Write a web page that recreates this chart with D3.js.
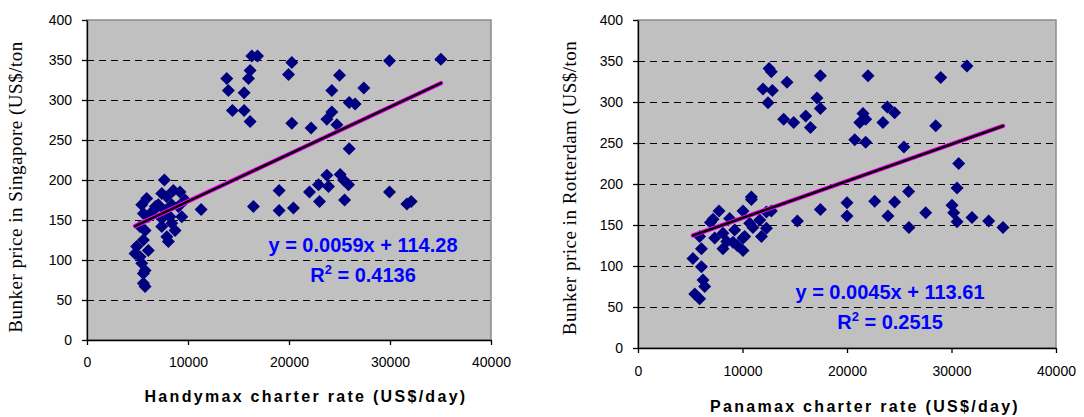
<!DOCTYPE html>
<html lang="en">
<head>
<meta charset="UTF-8">
<title>Bunker price vs charter rate</title>
<style>
  body { margin: 0; background: #fff; }
  svg { display: block; }
  .tick text { font-family: Arial, "Liberation Sans", sans-serif; font-size: 14px; fill: #000; }
</style>
</head>
<body>
<svg id="chart" width="1084" height="417"></svg>
<script src="https://cdnjs.cloudflare.com/ajax/libs/d3/7.8.5/d3.min.js"></script>
<script>
// Handymax charter rate (US$/day) vs Singapore bunker price (US$/ton)
let handyRate = [16320,16880,20280,19950,29950,35040,13840,14000,16150,15990,15560,14400,15560,16150,
  25000,24240,27410,25960,26550,20280,22190,24240,23750,24740,25960,
  23750,25070,22920,23910,25890,25400,19020,22030,29950,16480,19020,20440,23020,25500,31670,32100,
  7660,9210,7400,5910,9710,5420,11300,8390,7060,9050,7730,6070,6570,5580,8390,7400,8720,5750,
  7900,8060,5580,4920,4760,5250,5420,5750,5580,5750,8550,7900,9380,8220,5250,6070,5580,7400,6770];
let singPrice = [355,355,347,332,349,351,327,312,337,327,309,287,287,273,
  331,312,315,297,295,271,265,285,276,269,239,
  206,207,194,192,194,200,187,185,185,167,162,165,173,175,170,173,
  200,185,183,177,175,169,163,169,169,167,162,154,162,158,146,142,137,137,
  129,123,125,117,108,104,96,87,71,67,187,179,154,154,142,112,83,152,167];

// Panamax charter rate (US$/day) vs Rotterdam bunker price (US$/ton)
let panaRate = [12540,12760,11960,12860,12440,14260,13940,14900,16050,16500,17450,22010,28970,31480,
  17130,17450,21530,21220,21790,23860,24560,23440,28490,20740,21790,25450,30690,
  30530,25900,22650,24560,20000,20000,17450,15250,23920,25930,27530,30050,30210,30530,31960,33560,34930,
  10850,7750,10050,12760,6930,8770,11650,12290,11810,8130,9250,7340,8130,10050,10050,9090,
  5900,6070,5260,6070,6220,6380,5430,5900,7180,10690,10850,12290,10210,8500,9500,11000];
let rottPrice = [341,337,316,314,299,324,279,275,283,269,332,332,330,344,
  305,292,286,275,279,294,287,275,271,254,251,245,225,
  195,191,179,178,177,161,169,155,161,147,165,174,165,154,159,155,147,
  181,167,167,167,153,158,156,146,136,140,144,134,121,119,134,129,
  136,121,109,99,83,75,66,60,157,152,184,166,136,130,125,147];

let yTicks = [0,50,100,150,200,250,300,350,400];
let xTicks = [0,10000,20000,30000,40000];

let fits = [
  { slope: 0.0059, intercept: 114.28, eq: "y = 0.0059x + 114.28", r2: "0.4136" },
  { slope: 0.0045, intercept: 113.61, eq: "y = 0.0045x + 113.61", r2: "0.2515" }
];

let svg = d3.select("#chart");

function scatter(cfg) {
  let g = svg.append("g");
  let x = d3.scaleLinear().domain([0, 40000]).range([cfg.left, cfg.right]);
  let y = d3.scaleLinear().domain([0, 400]).range([cfg.bottom, cfg.top]);
  let data = cfg.xs.map((v, i) => ({ x: v, y: cfg.ys[i] }));

  // plot area
  g.append("rect")
    .attr("x", cfg.left).attr("y", cfg.top)
    .attr("width", cfg.right - cfg.left).attr("height", cfg.bottom - cfg.top)
    .attr("fill", "#c0c0c0")
    .attr("stroke", "#8c8c8c")
    .attr("stroke-width", 1.5);

  // dashed gridlines
  g.selectAll(".grid")
    .data(yTicks.filter(v => v > 0 && v < 400))
    .enter().append("line")
    .attr("x1", cfg.left).attr("x2", cfg.right)
    .attr("y1", d => Math.round(y(d)) + 0.5).attr("y2", d => Math.round(y(d)) + 0.5)
    .attr("stroke", "#000")
    .attr("stroke-dasharray", "7,5");

  // axes
  g.append("g")
    .attr("transform", "translate(" + cfg.left + ",0)")
    .call(d3.axisLeft(y).tickValues(yTicks).tickSize(5).tickSizeOuter(0).tickPadding(10))
    .call(a => a.selectAll("path,line").attr("stroke", "#000").attr("stroke-width", 1.3));

  g.append("g")
    .attr("transform", "translate(0," + cfg.bottom + ")")
    .call(d3.axisBottom(x).tickValues(xTicks).tickFormat(d3.format("d")).tickSize(5).tickSizeOuter(0).tickPadding(cfg.xpad))
    .call(a => a.selectAll("path,line").attr("stroke", "#000").attr("stroke-width", 1.3));

  // points
  let r = 6.5;
  g.selectAll(".pt")
    .data(data)
    .enter().append("path")
    .attr("d", "M0," + (-r) + "L" + r + ",0L0," + r + "L" + (-r) + ",0Z")
    .attr("transform", d => "translate(" + x(d.x) + "," + y(d.y) + ")")
    .attr("fill", "#000080");

  // trend line
  let ext = d3.extent(cfg.xs);
  let tl = ext.map(v => ({ x: v, y: cfg.fit.slope * v + cfg.fit.intercept }));
  let line = d3.line().x(d => x(d.x)).y(d => y(d.y));
  g.append("path").attr("d", line(tl))
    .attr("stroke", "#ff00ff").attr("stroke-width", 4.5).attr("stroke-linecap", "round").attr("fill", "none");
  g.append("path").attr("d", line(tl))
    .attr("stroke", "#000").attr("stroke-width", 2.6).attr("stroke-linecap", "round").attr("fill", "none");

  // equation
  let eqStyle = t => t.attr("font-family", "Arial, 'Liberation Sans', sans-serif")
    .attr("font-weight", "bold").attr("font-size", 20).attr("fill", "#0000ff")
    .attr("text-anchor", "middle");
  g.append("text").attr("x", cfg.eqX).attr("y", cfg.eqY).call(eqStyle).text(cfg.fit.eq);
  let r2 = g.append("text").attr("x", cfg.eqX).attr("y", cfg.eqY + 30).call(eqStyle);
  r2.append("tspan").text("R");
  r2.append("tspan").attr("font-size", 13).attr("dy", -8).text("2");
  r2.append("tspan").attr("dy", 8).text(" = " + cfg.fit.r2);

  // axis titles
  g.append("text")
    .attr("transform", "translate(" + cfg.ytX + "," + cfg.ytY + ") rotate(-90)")
    .attr("text-anchor", "middle")
    .attr("dominant-baseline", "middle")
    .attr("font-family", "'Times New Roman', 'Liberation Serif', serif")
    .attr("font-size", 19)
    .attr("letter-spacing", 0.5)
    .text(cfg.ytitle);

  g.append("text")
    .attr("x", cfg.xtX).attr("y", cfg.xtY)
    .attr("text-anchor", "middle")
    .attr("font-family", "Arial, 'Liberation Sans', sans-serif")
    .attr("font-weight", "bold")
    .attr("font-size", 16)
    .attr("letter-spacing", 2.3)
    .text(cfg.xtitle);
}

scatter({
  xs: handyRate, ys: singPrice, fit: fits[0],
  left: 87, right: 491, top: 20, bottom: 340, xpad: 12,
  eqX: 363, eqY: 252,
  ytX: 18, ytY: 187, ytitle: "Bunker price in Singapore (US$/ton",
  xtX: 306, xtY: 402, xtitle: "Handymax charter rate (US$/day)"
});

scatter({
  xs: panaRate, ys: rottPrice, fit: fits[1],
  left: 638, right: 1056, top: 20, bottom: 348, xpad: 13,
  eqX: 890, eqY: 299,
  ytX: 572, ytY: 188, ytitle: "Bunker price in Rotterdam (US$/ton",
  xtX: 865, xtY: 412, xtitle: "Panamax charter rate (US$/day)"
});
</script>
</body>
</html>
